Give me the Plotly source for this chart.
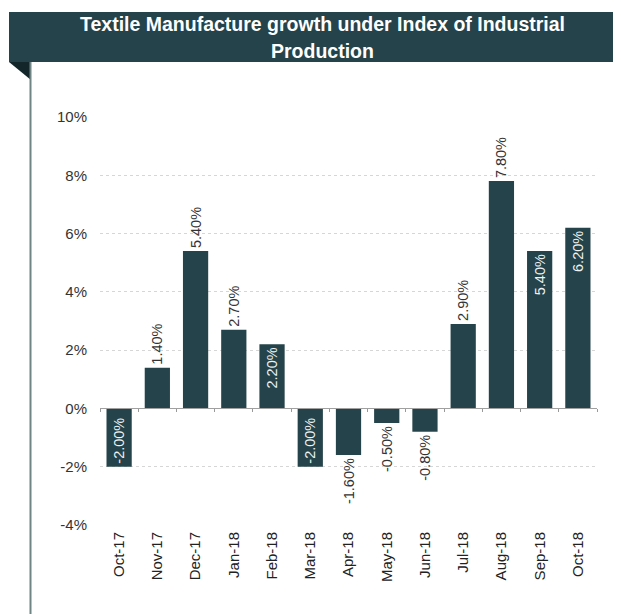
import plotly.graph_objects as go

months = ["Oct-17", "Nov-17", "Dec-17", "Jan-18", "Feb-18", "Mar-18", "Apr-18",
          "May-18", "Jun-18", "Jul-18", "Aug-18", "Sep-18", "Oct-18"]
growth = [-2.0, 1.4, 5.4, 2.7, 2.2, -2.0, -1.6, -0.5, -0.8, 2.9, 7.8, 5.4, 6.2]
label_pos = ["inside", "outside", "outside", "outside", "inside", "inside", "outside",
             "outside", "outside", "outside", "outside", "inside", "inside"]
y_ticks = [-4, -2, 0, 2, 4, 6, 8, 10]
title_lines = ["Textile Manufacture growth under Index of Industrial", "Production"]

BAR = "#24434a"
FONT = "Liberation Sans, Arial, sans-serif"

OFF = 8  # page body margin
W, H = 621 - OFF, 614 - OFF
L, R, T, B = 100 - OFF, 24, 117 - OFF, 89
pw, ph = W - L - R, H - T - B

def px_x(x):
    return (x - OFF - L) / pw

def px_y(y):
    return (H - B - (y - OFF)) / ph

fig = go.Figure()
fig.add_trace(go.Bar(
    x=list(range(len(months))), y=growth,
    marker=dict(color=BAR, line=dict(width=0)),
    width=0.66,
    text=[f"{v:.2f}%" for v in growth],
    textposition=label_pos,
    textangle=-90,
    insidetextanchor="end",
    constraintext="none",
    insidetextfont=dict(color="#eef2f2", size=14.5, family=FONT),
    outsidetextfont=dict(color="#333333", size=14.5, family=FONT),
    cliponaxis=False,
    hoverinfo="skip",
))

# invisible trace to carry tick marks on the zero line
fig.add_trace(go.Scatter(x=[-0.5, 12.5], y=[0, 0], xaxis="x2", mode="lines",
                         line=dict(color="rgba(0,0,0,0)"), hoverinfo="skip", showlegend=False))

fig.update_layout(
    width=W, height=H,
    margin=dict(l=L, r=R, t=T, b=B),
    paper_bgcolor="white", plot_bgcolor="white",
    showlegend=False,
    font=dict(family=FONT, color="#333333"),
    xaxis=dict(
        range=[-0.5, 12.5],
        tickmode="array", tickvals=list(range(len(months))), ticktext=months,
        tickangle=-90, tickfont=dict(size=15, color="#222222"),
        showgrid=False, zeroline=False, showline=False, ticks="",
        ticklabelstandoff=3,
    ),
    xaxis2=dict(
        overlaying="x", anchor="free", position=4 / 14,
        range=[-0.5, 12.5], tickmode="array",
        tickvals=[i - 0.5 for i in range(len(months) + 1)],
        showticklabels=False, ticks="outside", ticklen=3, tickcolor="#999999",
        showline=True, linecolor="#a0a0a0", linewidth=1,
        showgrid=False, zeroline=False,
    ),
    yaxis=dict(
        range=[-4, 10], domain=[0, 1],
        tickmode="array", tickvals=y_ticks, ticktext=[f"{v}%" for v in y_ticks],
        tickfont=dict(size=15, color="#333333"),
        showgrid=True, gridcolor="#d6d6d6", griddash="dot", gridwidth=1,
        zeroline=False, showline=False, ticks="",
        ticklabelstandoff=12,
    ),
    shapes=[
        dict(type="rect", xref="paper", yref="paper",
             x0=px_x(9), x1=px_x(630), y0=px_y(62), y1=px_y(12),
             fillcolor="#24434a", line=dict(width=0), layer="above"),
        dict(type="path", xref="paper", yref="paper",
             path=f"M {px_x(9)} {px_y(62)} L {px_x(31)} {px_y(62)} L {px_x(31)} {px_y(80)} Z",
             fillcolor="#13272b", line=dict(width=0), layer="above"),
        dict(type="line", xref="paper", yref="paper",
             x0=px_x(30.5), x1=px_x(30.5), y0=px_y(62), y1=px_y(620),
             line=dict(color="#6f8585", width=2), layer="above"),
    ],
    annotations=[
        dict(text=f"<b>{line}</b>", xref="paper", yref="paper",
             x=px_x(322), y=px_y(yc), xanchor="center", yanchor="middle",
             showarrow=False, align="center",
             font=dict(size=19.5, color="white", family=FONT))
        for line, yc in zip(title_lines, [24, 51])
    ],
)

fig.write_html("out.html")
